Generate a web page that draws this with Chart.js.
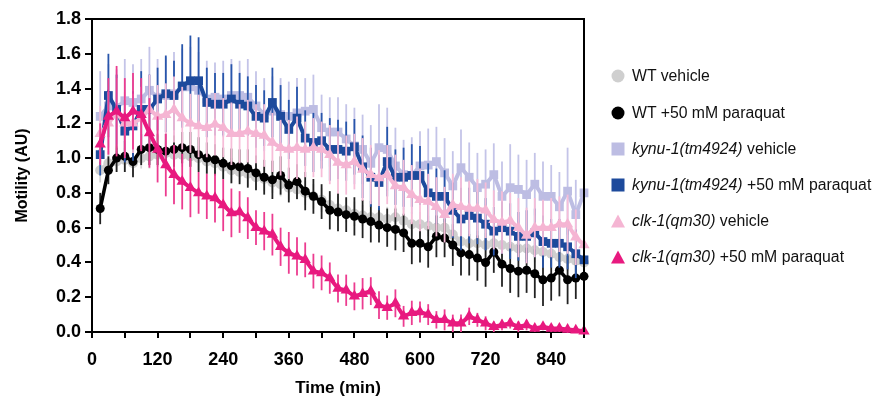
<!DOCTYPE html>
<html><head><meta charset="utf-8">
<script src="https://cdn.jsdelivr.net/npm/chart.js@4"></script>
<style>
body{margin:0;background:#fff;}
#wrap{position:relative;width:873px;height:399px;overflow:hidden;}
#c{position:absolute;left:0;top:0;}
#legend{position:absolute;left:0;top:0;font-family:"Liberation Sans",Arial,sans-serif;font-size:15.8px;color:#111;}
.row{position:absolute;left:611px;height:20px;display:flex;align-items:center;white-space:nowrap;}
.row svg{margin-right:7px;}
</style></head>
<body><div id="wrap"><canvas id="c" width="873" height="399"></canvas><div id="legend"></div></div>
<script>
const times = [15,30,45,60,75,90,105,120,135,150,165,180,195,210,225,240,255,270,285,300,315,330,345,360,375,390,405,420,435,450,465,480,495,510,525,540,555,570,585,600,615,630,645,660,675,690,705,720,735,750,765,780,795,810,825,840,855,870,885,900];
const xTickLabels = [0,120,240,360,480,600,720,840];
const yTicks = [0.0,0.2,0.4,0.6,0.8,1.0,1.2,1.4,1.6,1.8];

const wtVehicle = [0.93,0.97,0.98,0.99,0.97,1.00,1.01,1.02,1.03,1.02,1.02,1.01,1.00,0.98,0.97,
 0.95,0.93,0.92,0.91,0.89,0.88,0.86,0.85,0.83,0.82,0.80,0.78,0.76,0.73,0.71,
 0.70,0.68,0.67,0.66,0.66,0.65,0.66,0.64,0.62,0.62,0.61,0.60,0.60,0.56,0.52,
 0.51,0.51,0.50,0.51,0.50,0.49,0.48,0.48,0.47,0.46,0.45,0.43,0.42,0.41,0.40];
const wtVehicleErr = [0.07,0.07,0.06,0.07,0.07,0.06,0.07,0.07,0.06,0.07,0.07,0.06,0.07,0.07,0.06,
 0.07,0.07,0.06,0.07,0.07,0.07,0.06,0.07,0.07,0.06,0.07,0.07,0.07,0.06,0.07,
 0.07,0.07,0.06,0.07,0.07,0.07,0.06,0.07,0.07,0.07,0.06,0.07,0.07,0.07,0.06,
 0.07,0.07,0.07,0.06,0.07,0.07,0.07,0.06,0.07,0.07,0.07,0.06,0.07,0.07,0.06];

const wtPq = [0.71,0.93,1.00,1.01,0.98,1.05,1.06,1.05,1.04,1.05,1.06,1.05,1.02,1.00,0.99,
 0.97,0.955,0.95,0.94,0.915,0.89,0.875,0.90,0.845,0.865,0.81,0.78,0.75,0.70,0.69,
 0.675,0.665,0.65,0.635,0.615,0.60,0.59,0.57,0.51,0.51,0.49,0.55,0.54,0.50,0.455,
 0.445,0.425,0.40,0.46,0.39,0.365,0.35,0.355,0.335,0.30,0.31,0.355,0.30,0.31,0.32];
const wtPqErr = [0.09,0.08,0.08,0.09,0.09,0.09,0.10,0.09,0.10,0.10,0.09,0.10,0.10,0.09,0.09,
 0.09,0.10,0.10,0.11,0.10,0.10,0.11,0.11,0.10,0.10,0.11,0.10,0.10,0.11,0.11,
 0.10,0.11,0.11,0.12,0.10,0.11,0.12,0.11,0.12,0.11,0.12,0.12,0.11,0.12,0.13,
 0.12,0.13,0.14,0.12,0.13,0.14,0.15,0.13,0.14,0.15,0.13,0.15,0.14,0.12,0.11];

const kynuVehicle = [1.24,1.30,1.29,1.33,1.32,1.34,1.39,1.35,1.36,1.37,1.41,1.41,1.39,1.34,1.35,
 1.34,1.36,1.36,1.35,1.30,1.25,1.27,1.25,1.24,1.26,1.27,1.28,1.175,1.15,1.15,
 1.11,1.07,1.05,0.97,1.06,1.05,0.955,0.905,0.90,0.955,0.96,0.98,0.915,0.84,0.945,
 0.89,0.83,0.85,0.905,0.78,0.83,0.82,0.79,0.85,0.78,0.78,0.72,0.81,0.675,0.80];
const kynuVehicleErr = [0.26,0.24,0.22,0.24,0.22,0.23,0.25,0.22,0.22,0.24,0.22,0.23,0.22,0.22,0.2,
 0.22,0.21,0.2,0.22,0.2,0.21,0.2,0.21,0.2,0.2,0.19,0.2,0.19,0.2,0.2,
 0.2,0.22,0.2,0.22,0.25,0.24,0.22,0.2,0.22,0.2,0.21,0.2,0.2,0.2,0.22,
 0.2,0.2,0.2,0.18,0.2,0.25,0.2,0.2,0.18,0.2,0.18,0.2,0.25,0.2,0.18];

const kynuPq = [1.02,1.36,1.28,1.155,1.185,1.28,1.28,1.34,1.37,1.36,1.415,1.445,1.445,1.32,1.31,
 1.31,1.34,1.31,1.30,1.24,1.23,1.32,1.24,1.165,1.23,1.115,1.09,1.10,1.05,1.05,
 1.04,1.065,0.95,0.89,0.86,0.98,0.89,0.89,0.90,0.90,0.80,0.78,0.78,0.70,0.65,
 0.67,0.655,0.62,0.58,0.60,0.58,0.55,0.55,0.57,0.52,0.51,0.51,0.49,0.45,0.415];
const kynuPqErr = [0.12,0.24,0.20,0.18,0.20,0.22,0.20,0.18,0.22,0.20,0.24,0.26,0.25,0.20,0.18,
 0.18,0.20,0.18,0.17,0.18,0.16,0.20,0.18,0.17,0.18,0.16,0.17,0.16,0.18,0.17,
 0.17,0.16,0.18,0.17,0.16,0.20,0.16,0.17,0.18,0.17,0.17,0.16,0.15,0.16,0.18,
 0.16,0.15,0.15,0.14,0.15,0.16,0.14,0.15,0.14,0.15,0.14,0.14,0.13,0.14,0.12];

const clkVehicle = [1.14,1.20,1.26,1.20,1.20,1.23,1.28,1.24,1.25,1.28,1.23,1.20,1.185,1.175,1.195,
 1.175,1.14,1.14,1.155,1.14,1.13,1.09,1.06,1.05,1.06,1.05,1.06,1.05,1.02,0.975,
 0.96,0.98,0.935,0.905,0.885,0.905,0.84,0.83,0.79,0.76,0.75,0.72,0.675,0.73,0.72,
 0.71,0.71,0.70,0.645,0.63,0.64,0.60,0.555,0.60,0.60,0.60,0.62,0.62,0.545,0.50];
const clkVehicleErr = [0.16,0.18,0.2,0.18,0.17,0.18,0.2,0.18,0.18,0.19,0.18,0.17,0.18,0.17,0.18,
 0.17,0.18,0.17,0.18,0.17,0.18,0.17,0.16,0.17,0.18,0.16,0.17,0.16,0.17,0.18,
 0.17,0.16,0.18,0.17,0.16,0.17,0.18,0.16,0.17,0.18,0.16,0.17,0.16,0.18,0.17,
 0.16,0.17,0.16,0.17,0.18,0.16,0.17,0.16,0.17,0.16,0.17,0.16,0.17,0.16,0.15];

const clkPq = [1.08,1.24,1.27,1.23,1.27,1.25,1.145,1.05,0.96,0.905,0.865,0.83,0.80,0.78,0.77,
 0.73,0.685,0.69,0.655,0.60,0.58,0.56,0.49,0.455,0.435,0.415,0.35,0.34,0.31,0.25,
 0.24,0.205,0.22,0.235,0.155,0.14,0.165,0.09,0.11,0.115,0.10,0.07,0.07,0.05,0.05,
 0.09,0.07,0.05,0.03,0.04,0.05,0.03,0.04,0.02,0.03,0.02,0.02,0.015,0.01,0.005];
const clkPqErr = [0.12,0.22,0.26,0.23,0.22,0.21,0.2,0.19,0.18,0.17,0.16,0.17,0.12,0.13,0.14,
 0.15,0.14,0.12,0.12,0.1,0.11,0.12,0.11,0.12,0.11,0.1,0.1,0.1,0.09,0.08,
 0.09,0.08,0.09,0.08,0.08,0.07,0.08,0.06,0.07,0.06,0.06,0.05,0.06,0.05,0.05,
 0.05,0.04,0.04,0.03,0.03,0.03,0.03,0.03,0.02,0.02,0.02,0.02,0.02,0.015,0.01];

const seriesDefs = [
 {label:'WT vehicle', html:'WT vehicle', y:wtVehicle, err:wtVehicleErr, color:'#cfcfcf', errColor:'#d4d4d4', style:'circle', r:5, bw:4.5, order:6},
 {label:'WT +50 mM paraquat', html:'WT +50 mM paraquat', y:wtPq, err:wtPqErr, color:'#000000', errColor:'#222222', style:'circle', r:4.5, bw:3.5, order:5},
 {label:'kynu-1(tm4924) vehicle', html:'<i>kynu-1(tm4924)</i> vehicle', y:kynuVehicle, err:kynuVehicleErr, color:'#bdbde3', errColor:'#c4c4e8', style:'rect', r:6.2, bw:4, order:4},
 {label:'kynu-1(tm4924) +50 mM paraquat', html:'<i>kynu-1(tm4924)</i> +50 mM paraquat', y:kynuPq, err:kynuPqErr, color:'#1d4a9c', errColor:'#2856ab', style:'rect', r:6.2, bw:4, order:3},
 {label:'clk-1(qm30) vehicle', html:'<i>clk-1(qm30)</i> vehicle', y:clkVehicle, err:clkVehicleErr, color:'#f5b5d3', errColor:'#f6bdd8', style:'triangle', r:6.5, bw:4, order:2},
 {label:'clk-1(qm30) +50 mM paraquat', html:'<i>clk-1(qm30)</i> +50 mM paraquat', y:clkPq, err:clkPqErr, color:'#e8197f', errColor:'#ec3c90', style:'triangle', r:6.5, bw:4, order:1}
];

const datasets = seriesDefs.map(s => ({
  label: s.label,
  data: times.map((t,i) => ({x:t, y:s.y[i]})),
  err: s.err,
  errColor: s.errColor,
  borderColor: s.color,
  backgroundColor: s.color,
  borderWidth: s.bw,
  pointStyle: s.style,
  pointRadius: s.r,
  pointBorderWidth: 0,
  pointBackgroundColor: s.color,
  tension: 0,
  clip: false,
  order: s.order
}));

const errorBars = {
  id:'errorBars',
  beforeDatasetDraw(chart, args){
    const ds = chart.data.datasets[args.index];
    const xs = chart.scales.x, ys = chart.scales.y;
    const ctx = chart.ctx;
    ctx.save();
    ctx.strokeStyle = ds.errColor;
    ctx.lineWidth = 1.8;
    ds.data.forEach((p,i)=>{
      const e = ds.err[i];
      const x = xs.getPixelForValue(p.x);
      ctx.beginPath();
      ctx.moveTo(x, ys.getPixelForValue(p.y - e));
      ctx.lineTo(x, ys.getPixelForValue(p.y + e));
      ctx.stroke();
    });
    ctx.restore();
  }
};
const frame = {
  id:'frame',
  afterDatasetsDraw(chart){
    const a = chart.chartArea, ctx = chart.ctx;
    ctx.save();
    ctx.strokeStyle = '#000'; ctx.lineWidth = 2;
    ctx.beginPath();
    ctx.moveTo(a.left, a.top); ctx.lineTo(a.right, a.top); ctx.lineTo(a.right, a.bottom);
    ctx.stroke();
    ctx.restore();
  }
};

const tickFont = {family:'"Liberation Sans", Arial, sans-serif', size:18, weight:'bold'};
new Chart(document.getElementById('c'), {
  type:'line',
  data:{datasets},
  options:{
    responsive:false, animation:false,
    layout:{padding:{left:0, right:289, top:19, bottom:0}},
    plugins:{legend:{display:false}, tooltip:{enabled:false}},
    scales:{
      x:{type:'linear', min:0, max:900,
        afterFit(s){ s.height = 67; },
        afterBuildTicks(s){ s.ticks = []; for (let v=0; v<=900; v+=60) s.ticks.push({value:v}); },
        ticks:{autoSkip:false, maxRotation:0, color:'#000', font:tickFont, padding:11,
          callback:(v)=> xTickLabels.includes(v) ? String(v) : ''},
        grid:{drawOnChartArea:false, color:'#000', lineWidth:2, tickLength:6},
        border:{color:'#000', width:2},
        title:{display:true, text:'Time (min)', color:'#000', font:{family:'"Liberation Sans", Arial, sans-serif', size:17, weight:'bold'}, padding:{top:0,bottom:0}}
      },
      y:{min:0, max:1.8,
        afterFit(s){ s.width = 92; },
        afterBuildTicks(s){ s.ticks = yTicks.map(v=>({value:v})); },
        ticks:{color:'#000', font:tickFont, padding:4, callback:(v)=>Number(v).toFixed(1)},
        grid:{drawOnChartArea:false, color:'#000', lineWidth:2, tickLength:7},
        border:{color:'#000', width:2},
        title:{display:true, text:'Motility (AU)', color:'#000', font:{family:'"Liberation Sans", Arial, sans-serif', size:16, weight:'bold'}, padding:{top:13,bottom:0}}
      }
    }
  },
  plugins:[errorBars, frame]
});

// legend
const rowsY = [76,112.5,149,185,221,257];
const leg = document.getElementById('legend');
seriesDefs.forEach((s,i)=>{
  const row = document.createElement('div');
  row.className='row';
  row.style.top = (rowsY[i]-10)+'px';
  let shape;
  if (s.style==='circle') shape = `<circle cx="7" cy="7" r="6.5" fill="${s.color}"/>`;
  else if (s.style==='rect') shape = `<rect x="0.5" y="0.5" width="13" height="13" fill="${s.color}"/>`;
  else shape = `<polygon points="7,0.5 14,13.5 0,13.5" fill="${s.color}"/>`;
  row.innerHTML = `<svg width="14" height="14">${shape}</svg><span>${s.html}</span>`;
  leg.appendChild(row);
});
</script></body></html>
